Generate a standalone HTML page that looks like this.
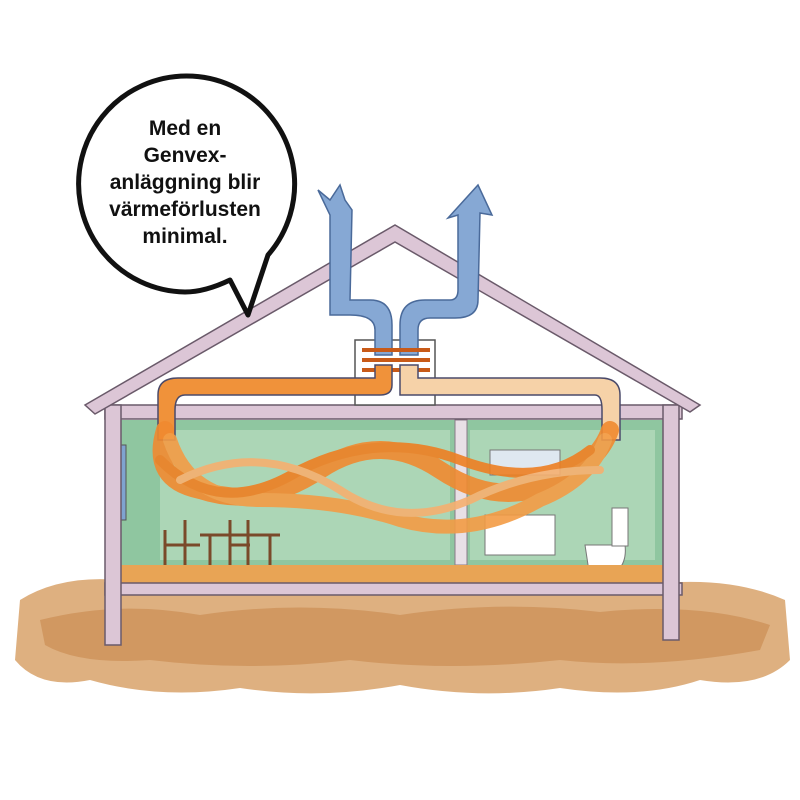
<!DOCTYPE html>
<html><head><meta charset="utf-8"><style>
html,body{margin:0;padding:0;background:#fff;width:800px;height:800px;overflow:hidden}
svg{display:block}
</style></head><body>
<svg width="800" height="800" viewBox="0 0 800 800" xmlns="http://www.w3.org/2000/svg">
<!-- ground -->
<path d="M20 600 Q60 575 120 580 L680 582 Q740 580 785 600 L790 660 Q760 690 700 680 Q640 700 560 688 Q480 700 400 685 Q320 700 240 688 Q160 700 90 680 Q40 690 15 660 Z" fill="#d8a26a" opacity="0.85"/>
<path d="M40 620 Q120 600 200 615 Q300 600 400 615 Q500 600 600 612 Q700 602 770 625 L760 650 Q650 670 560 660 Q450 672 350 660 Q250 672 150 660 Q80 665 45 645 Z" fill="#c47f42" opacity="0.5"/>
<!-- interior -->
<rect x="120" y="420" width="545" height="150" fill="#8fc6a0"/>
<rect x="160" y="430" width="290" height="130" fill="#acd6b6"/>
<rect x="470" y="430" width="185" height="130" fill="#acd6b6"/>
<rect x="455" y="420" width="12" height="145" fill="#e8e0e6" stroke="#8a7a88"/>
<!-- window -->
<rect x="112" y="445" width="14" height="75" fill="#7fa3d0" stroke="#555"/>
<rect x="490" y="450" width="70" height="25" fill="#dfe8f0" stroke="#777"/>
<rect x="485" y="515" width="70" height="40" fill="#fff" stroke="#777"/>
<!-- toilet -->
<path d="M585 545 L625 545 Q628 570 605 578 L590 578 Z" fill="#fff" stroke="#777"/>
<rect x="612" y="508" width="16" height="38" fill="#fff" stroke="#777"/>
<!-- furniture -->
<g stroke="#7a4a2a" stroke-width="3" fill="none">
<path d="M165 530 L165 570 M185 520 L185 570 M165 545 L200 545"/>
<path d="M200 535 L280 535 M210 535 L210 570 M270 535 L270 570"/>
<path d="M230 520 L230 570 M248 520 L248 570 M230 545 L250 545"/>
</g>
<!-- floor -->
<rect x="120" y="565" width="545" height="18" fill="#e8a455"/>
<!-- structure -->
<g fill="#dcc6d6" stroke="#6a5a6a" stroke-width="1.5">
<rect x="105" y="405" width="577" height="14"/>
<rect x="105" y="583" width="577" height="12"/>
<rect x="105" y="405" width="16" height="240"/>
<rect x="663" y="405" width="16" height="235"/>
<path d="M85 405 L395 225 L700 405 L690 412 L395 242 L95 414 Z"/>
</g>
<!-- vent box -->
<rect x="355" y="340" width="80" height="65" fill="#fff" stroke="#555" stroke-width="1.5"/>
<!-- blue ducts -->
<path d="M375 355 L375 330 Q375 315 350 315 L330 315 L330 215 L318 190 L330 200 L340 185 L345 200 L352 210 L350 300 L370 300 Q392 300 392 325 L392 355 Z" fill="#86a8d4" stroke="#4a6a9a" stroke-width="1.5"/>
<path d="M400 355 L400 325 Q400 300 425 300 L450 300 Q458 300 458 290 L458 215 L448 218 L478 185 L492 215 L480 213 L478 300 Q478 318 455 318 L430 318 Q418 318 418 330 L418 355 Z" fill="#86a8d4" stroke="#4a6a9a" stroke-width="1.5"/>
<g stroke="#c85a18" stroke-width="4" fill="none"><path d="M362 350 L430 350 M362 360 L430 360 M362 370 L430 370"/></g>
<!-- orange supply duct -->
<path d="M392 365 L392 385 Q392 395 380 395 L185 395 Q175 395 175 410 L175 440 L158 440 L158 395 Q158 378 178 378 L375 378 L375 365 Z" fill="#f0923a" stroke="#4a4a6a" stroke-width="1.5"/>
<path d="M400 365 L400 395 L595 395 Q602 395 602 410 L602 440 L620 440 L620 395 Q620 378 600 378 L418 378 L418 365 Z" fill="#f6d2a8" stroke="#4a4a6a" stroke-width="1.5"/>
<!-- flows -->
<g fill="none" stroke-linecap="round" opacity="0.9">
<path d="M165 430 Q150 480 200 490 Q260 510 320 470 Q380 430 440 470 Q500 510 560 480 Q600 460 610 430" stroke="#f08a30" stroke-width="18"/>
<path d="M170 440 Q190 500 260 500 Q340 500 400 520 Q470 540 540 500 Q590 480 605 440" stroke="#f39c45" stroke-width="14"/>
<path d="M160 460 Q220 520 300 470 Q380 430 460 460 Q540 490 590 450" stroke="#ee7f22" stroke-width="10"/>
<path d="M180 480 Q260 440 340 490 Q400 530 470 500 Q530 470 600 470" stroke="#f6b070" stroke-width="8"/>
</g>
<!-- speech bubble -->
<path d="M230 280 Q205 292 185 292 A108 108 0 1 1 268 255 L248 315 Z" fill="#fff" stroke="#111" stroke-width="5" stroke-linejoin="round"/>
<g font-family="Liberation Sans Narrow, Liberation Sans, sans-serif" font-weight="bold" font-size="21" fill="#111" text-anchor="middle">
<text x="185" y="135">Med en</text>
<text x="185" y="162">Genvex-</text>
<text x="185" y="189">anläggning blir</text>
<text x="185" y="216">värmeförlusten</text>
<text x="185" y="243">minimal.</text>
</g>
</svg>
</body></html>
